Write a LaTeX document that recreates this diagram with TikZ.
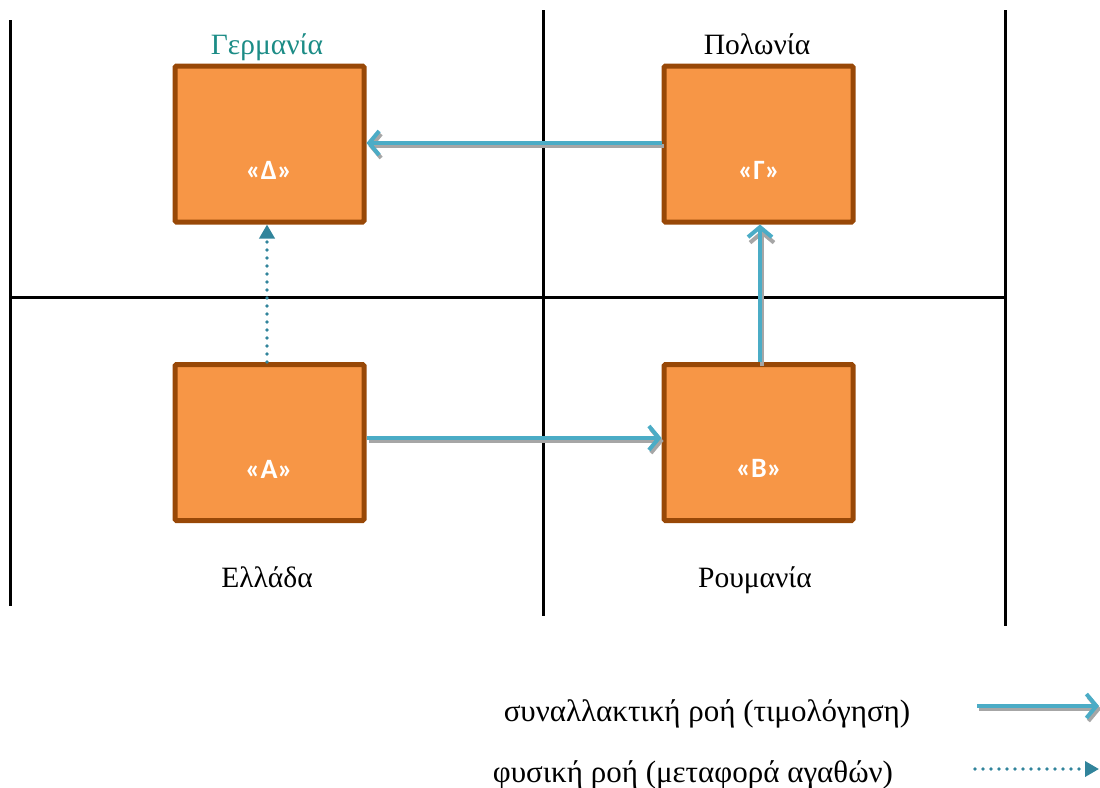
\documentclass[tikz,border=0pt]{standalone}
\usepackage{fontspec}
\setmainfont{Liberation Serif}
\newfontfamily\boxfont{Carlito}
\usetikzlibrary{arrows.meta}
\definecolor{boxfill}{HTML}{F79646}
\definecolor{boxdraw}{HTML}{984807}
\definecolor{flowblue}{HTML}{4BACC6}
\definecolor{dotteal}{HTML}{31849B}
\definecolor{titleteal}{HTML}{1C8C86}
\definecolor{shadowgrey}{HTML}{A6A6A6}
\tikzset{
  company/.style={draw=boxdraw, fill=boxfill, line width=5pt, rounded corners=1.5pt, minimum width=189pt, minimum height=156pt, inner sep=0pt},
  complabel/.style={text=white, font=\boxfont\bfseries\fontsize{28}{32}\selectfont},
  country/.style={font=\fontsize{29.5}{34}\selectfont, anchor=base},
  legendtext/.style={font=\fontsize{31}{36}\selectfont, anchor=base},
  border/.style={line width=3pt, black},
  invflow/.style={line width=4pt, draw=flowblue, -{Straight Barb[length=10pt,width=24pt]}},
  invshadow/.style={line width=4pt, draw=shadowgrey, -{Straight Barb[length=10pt,width=24pt]}},
  physflow/.style={line width=3.6pt, draw=dotteal, dash pattern=on 0pt off 8pt, line cap=round, -{Triangle[length=14pt,width=15pt,line cap=butt]}},
}
\begin{document}
\begin{tikzpicture}[x=1pt,y=-1pt]
\useasboundingbox (0,0) rectangle (1100,787);
% borders
\draw[border] (10,20) -- (10,606);
\draw[border] (543,10) -- (543,616);
\draw[border] (1005,10) -- (1005,626);
\draw[border] (10,297) -- (1005,297);
% companies
\node[company] (D) at (269.5,144) {};
\node[company] (G) at (758.5,144) {};
\node[company] (A) at (269.5,442.5) {};
\node[company] (B) at (758.5,442.5) {};
\node[complabel] at (269,170) {«Δ»};
\node[complabel] at (759,170) {«Γ»};
\node[complabel] at (269,469) {«Α»};
\node[complabel] at (759,468) {«Β»};
% countries
\node[country, text=titleteal] (tD) at (267,54) {Γερμανία};
\node[country] (tG) at (757,54) {Πολωνία};
\node[country] (tA) at (267,587) {Ελλάδα};
\node[country] (tB) at (755,587) {Ρουμανία};
% flows
\draw[invshadow] ([shift={(2,3)}]G.west |- 0,143) -- ([shift={(2,3)}]D.east |- 0,143);
\draw[invflow] (G.west |- 0,143) -- (D.east |- 0,143);
\draw[invshadow] ([shift={(2,3)}]A.east |- 0,438) -- ([shift={(2,3)}]B.west |- 0,438);
\draw[invflow] (A.east |- 0,438) -- (B.west |- 0,438);
\draw[invshadow] ([shift={(2,3)}]760,363) -- ([shift={(2,3)}]760,227);
\draw[invflow] (B.north -| 760,0) -- (G.south -| 760,0);
\draw[physflow] (A.north -| 267,0) -- (D.south -| 267,0);
% legend
\node[legendtext] (l1) at (707,721) {συναλλακτική ροή (τιμολόγηση)};
\node[legendtext] (l2) at (693,782) {φυσική ροή (μεταφορά αγαθών)};
\coordinate (a1) at (977,706);
\coordinate (b1) at (1099,706);
\coordinate (a2) at (975,769);
\coordinate (b2) at (1099,769);
\draw[invshadow] ([shift={(2,3)}]a1) -- ([shift={(2,3)}]b1);
\draw[invflow] (a1) -- (b1);
\draw[physflow] (a2) -- (b2);
\end{tikzpicture}
\end{document}
